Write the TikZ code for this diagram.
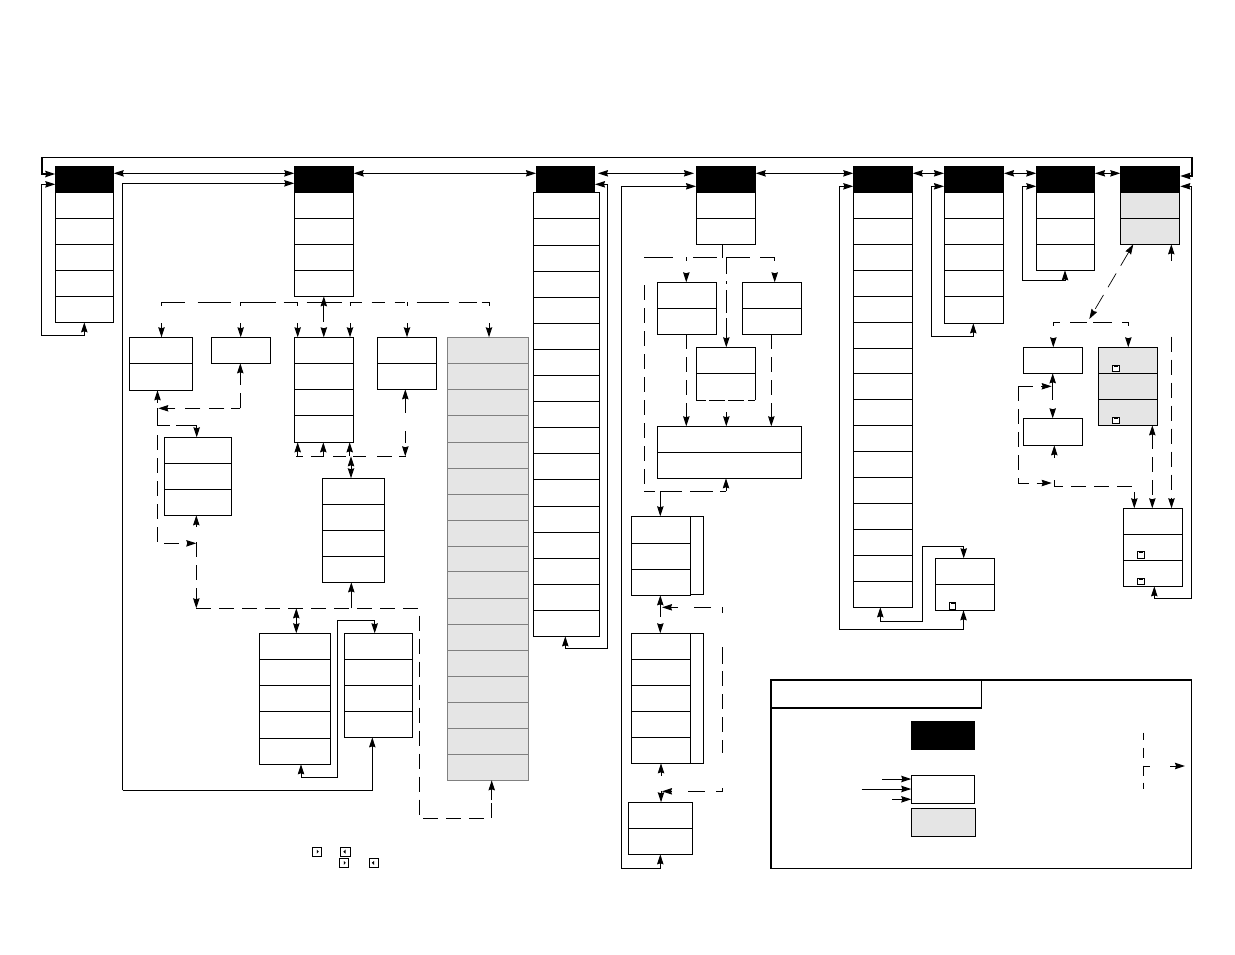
\documentclass[tikz,border=0pt]{standalone}
\usetikzlibrary{arrows.meta}
\definecolor{panelgray}{HTML}{E5E5E5}
\definecolor{edgegray}{HTML}{808080}
\tikzset{
  x=1pt,y=-1pt,
  Tp/.tip={Stealth[length=10pt,width=6.4pt,inset=1pt]},
  cellbox/.style={draw=black,line width=1pt,inner sep=0pt,outer sep=0pt},
  hdrbox/.style={fill=black,inner sep=0pt,outer sep=0pt},
  graybox/.style={cellbox,fill=panelgray},
  kbox/.style={draw=edgegray,fill=panelgray,line width=1pt,inner sep=0pt,outer sep=0pt},
  iconbox/.style={draw=black,fill=white,line width=1pt,inner sep=0pt,outer sep=0pt},
  wire/.style={line width=1pt,draw=black},
  sa/.style={wire,-{Tp}},
  sr/.style={wire,{Tp}-},
  da/.style={wire,{Tp}-{Tp}},
  dl/.style={wire,dash pattern=on 15pt off 8pt},
  dsa/.style={dl,-{Tp}},
  dda/.style={dl,{Tp}-{Tp}},
  drop/.style={wire,-{Tp},dash pattern=on 4pt off 17pt on 100pt},
}
\newcommand{\bx}[6][cellbox]{\node[#1,minimum width={(#5-#3)*1pt},minimum height={(#6-#4)*1pt}] (#2) at ({(#3+#5)/2},{(#4+#6)/2}) {};}
\newcommand{\stk}[6][cellbox]{\foreach \yb [remember=\yb as \ya (initially #5), count=\i] in {#6} {\bx[#1]{#2\i}{#3}{\ya}{#4}{\yb}}}
\begin{document}
\begin{tikzpicture}
\useasboundingbox (0,0) rectangle (1235,954);
% headers
\bx[hdrbox]{A0}{55.3}{166}{113.7}{192.7}
\bx[hdrbox]{B0}{294.3}{166}{353.7}{192.7}
\bx[hdrbox]{C0}{536}{166}{595}{192.7}
\bx[hdrbox]{D0}{696}{166}{755.7}{192.7}
\bx[hdrbox]{E0}{853.3}{166}{912.7}{192.7}
\bx[hdrbox]{F0}{944}{166}{1004}{192.7}
\bx[hdrbox]{G0}{1036.3}{166}{1095}{192.7}
\bx[hdrbox]{H0}{1120.3}{166}{1180.3}{192.7}
% stacks
\stk{A}{55.3}{113.3}{192.7}{218.3,244.3,270.3,296.3,322.3}
\stk{B}{294.3}{353.3}{192.7}{218.5,244.3,270.3,296.3}
\stk{C}{533.3}{599.3}{192.3}{218.3,245.3,271.3,297.3,323.3,349.3,375.3,401.3,427.3,453.3,479.3,506.3,532.3,558.3,584.3,610.3,636.3}
\stk{D}{696.3}{755.3}{192.7}{218.3,244.3}
\stk{E}{853.3}{912.3}{192.7}{218.3,244.3,270.3,296.3,322.3,348.3,373.3,399.3,425.3,451.3,477.3,503.3,529.3,555.3,581.3,607.3}
\stk{F}{944.3}{1003.3}{192.7}{218.3,244.3,270.3,296.3,323.3}
\stk[graybox]{H}{1120.3}{1179.3}{192.7}{218.3,244.3}
\stk{G}{1036.3}{1094.7}{192.7}{218.3,244.3,270.3}
\stk{Ja}{129.3}{192.7}{337.3}{363.3,390.3}
\bx{Jb1}{211.3}{337.3}{270.3}{363.3}
\stk{Jc}{294.3}{353.3}{337.3}{363.3,389.3,415.3,442.3}
\stk{Jd}{377.3}{436.3}{337.3}{363.3,389.3}
\stk[kbox]{K}{447.3}{528.3}{337.3}{363.3,389.3,415.3,442.3,468.3,494.3,520.3,546.3,571.3,598.3,624.3,650.3,676.3,702.3,728.3,754.3,780.3}
\stk{Je}{164.3}{231.3}{437.3}{463.3,489.3,515.3}
\stk{Jf}{259.3}{330.7}{633.3}{659.3,685.3,711.3,738.3,764.3}
\stk{Jg}{344.3}{412.3}{633.3}{659.3,685.3,711.3,737.3}
\stk{Jh}{322.3}{384.3}{478.3}{504.3,530.3,556.3,582.3}
\stk{Da}{657.3}{716.3}{282.3}{308.3,334.3}
\stk{Db}{742.3}{801.3}{282.3}{308.3,334.3}
\bx{Dc1}{696.3}{347.3}{755.3}{373.3}
\bx[draw=none,inner sep=0pt,outer sep=0pt]{Dc2}{696.3}{373.3}{755.3}{400.3}
\stk{Dd}{657.3}{801.3}{426.3}{452.3,478.3}
\bx{Des}{690.3}{516.3}{703.3}{594.3}
\stk{De}{631.3}{690.3}{516.3}{543.3,569.3,595.3}
\bx{Dfs}{690.3}{633.3}{703.3}{763.3}
\stk{Df}{631.3}{690.3}{633.3}{659.3,685.3,711.3,737.3,763.3}
\stk{Dg}{628.3}{692.3}{802.3}{828.3,854.3}
\stk{Eb}{935.3}{994.3}{558.3}{584.3,610.3}
\bx{Ia1}{1023.3}{347.3}{1082.3}{373.3}
\bx{Ib1}{1023.3}{418.3}{1082.3}{445.3}
\stk[graybox]{Ic}{1098.3}{1157.3}{347.3}{373.3,399.3,425.3}
\stk{Id}{1123.3}{1182.3}{508.3}{534.3,560.3,586.3}
% D3 lower cell: open outline with a broken bottom edge
\draw[wire] (Dc2.south west) -- (Dc2.north west) (Dc2.north east) -- (Dc2.south east);
\draw[wire,dash pattern=on 10pt off 3pt on 16pt off 3pt on 16pt off 4pt on 10pt] (Dc2.south west) -- (Dc2.south east);
\draw[line width=1.6pt] (B1.south west) -- (B1.south east);
% icons
\bx[iconbox]{ie}{949.3}{602.3}{955.7}{609.3}
\bx[iconbox]{ic1}{1112.3}{365.7}{1119.7}{371.3}
\bx[iconbox]{ic2}{1112.3}{417.7}{1119.7}{423.3}
\bx[iconbox]{id1}{1137.3}{551.7}{1144.7}{558.3}
\bx[iconbox]{id2}{1137.3}{578.3}{1144.7}{584.3}
\bx[iconbox]{n1}{312.3}{847}{321.7}{856.3}
\bx[iconbox]{n2}{340.3}{847}{350.7}{856.3}
\bx[iconbox]{n3}{339.3}{858}{348.7}{867.7}
\bx[iconbox]{n4}{369.3}{858}{378.7}{867.7}
\foreach \n in {ie,ic1,ic2,id1,id2}{\fill ([xshift=-2pt,yshift=-.2pt]\n.north) rectangle ([xshift=2pt,yshift=-1.4pt]\n.north);}
\foreach \n in {n1,n3}{\fill ([xshift=1.8pt]\n.center) -- ([xshift=-.2pt,yshift=-2pt]\n.center) -- ([xshift=-.2pt,yshift=2pt]\n.center) -- cycle;}
\foreach \n in {n2,n4}{\fill ([xshift=-2.2pt]\n.center) -- ([xshift=0pt,yshift=-2pt]\n.center) -- ([xshift=0pt,yshift=2pt]\n.center) -- cycle;}
% legend
\bx[draw=black,line width=1.4pt,inner sep=0pt,outer sep=0pt]{Lframe}{771}{680}{1191.4}{868.3}
\bx[draw=none,inner sep=0pt,outer sep=0pt]{Ltab}{771}{680}{981.7}{708}
\draw[line width=1.5pt] (Ltab.south west) -- (Ltab.south east) -- (Ltab.north east);
\bx[hdrbox]{Lblack}{911}{721}{975}{750}
\bx{Lwhite}{911.3}{775.3}{974.7}{803.7}
\bx[graybox]{Lgray}{911.3}{808.3}{975.7}{836.3}
\coordinate (ll1) at (882,779);
\coordinate (ll2) at (861.7,789);
\coordinate (ll3) at (892,799.3);
\draw[sa] (ll1) -- (Lwhite.west |- ll1);
\draw[sa] (ll2) -- (Lwhite.west |- ll2);
\draw[sa] (ll3) -- (Lwhite.west |- ll3);
\coordinate (lk1) at (1143.3,732.7);
\coordinate (lk2) at (1143.3,789.3);
\coordinate (lk3) at (1143.3,766);
\coordinate (lk4) at (1150,766);
\coordinate (lk5) at (1170,766);
\coordinate (lk6) at (1185,766);
\draw[wire,dash pattern=on 7pt off 8pt on 10pt off 8pt on 10pt off 7pt on 7pt] (lk1) -- (lk2);
\draw[wire] (lk3) -- (lk4);
\draw[sa] (lk5) -- (lk6);
% top frame
\coordinate (tl) at (41.7,157.3);
\coordinate (tr) at (1191.8,157.3);
\draw[wire] (tl) -- (tr);
\draw[sa,line width=1.6pt] (tl) -- (41.7,174) -- (A0.west |- 0,174);
\draw[sa,line width=1.6pt] (tr) -- (1191.8,176) -- (H0.east |- 0,176);
% header row
\draw[da] (A0.east |- 0,173.3) -- (B0.west |- 0,173.3);
\draw[da] (B0.east |- 0,173.3) -- (C0.west |- 0,173.3);
\draw[da] ([xshift=3pt]C0.east |- 0,173.3) -- ([xshift=-2pt]D0.west |- 0,173.3);
\draw[da] (D0.east |- 0,173.3) -- (E0.west |- 0,173.3);
\draw[da] (E0.east |- 0,173.3) -- (F0.west |- 0,173.3);
\draw[da] (F0.east |- 0,173.3) -- (G0.west |- 0,173.3);
\draw[da] (G0.east |- 0,173.3) -- (H0.west |- 0,173.3);
% solid loops
\draw[da] (A0.west |- 0,184.3) -- (41.3,184.3) -- (41.3,335) -- (84.3,335) -- (A5.south -| 84.3,0);
\draw[sa] (122.5,790.3) -- (122.5,183.3) -- (B0.west |- 0,183.3);
\draw[sa] (122.5,790.3) -- (372.3,790.3) -- (Jg4.south -| 372.3,0);
\draw[da] (C0.east |- 0,184.3) -- (607.3,184.3) -- (607.3,648.3) -- (565.3,648.3) -- (C17.south -| 565.3,0);
\draw[da] (D0.west |- 0,186.3) -- (621.5,186.3) -- (621.5,868.3) -- (660.3,868.3) -- (Dg2.south -| 660.3,0);
\draw[da] (E0.west |- 0,186.3) -- (839.7,186.3) -- (839.7,629) -- (963.5,629) -- (Eb2.south -| 963.5,0);
\draw[da] (E16.south -| 880.3,0) -- (880.3,621) -- (922.3,621) -- (922.3,546.3) -- (963.7,546.3) -- (Eb1.north -| 963.7,0);
\draw[da] (F0.west |- 0,186.3) -- (931.3,186.3) -- (931.3,336.3) -- (973.3,336.3) -- (F5.south -| 973.3,0);
\draw[da] (G0.west |- 0,186.3) -- (1022.7,186.3) -- (1022.7,280.3) -- (1065,280.3) -- (G3.south -| 1065,0);
\draw[da] (H0.east |- 0,186.3) -- (1191.7,186.3) -- (1191.7,598.3) -- (1154.3,598.3) -- (Id3.south -| 1154.3,0);
\draw[da] (Jf5.south -| 301,0) -- (301,777.3) -- (337.3,777.3) -- (337.3,620.3) -- (374.7,620.3) -- (Jg1.north -| 374.7,0);
% bus under B
\coordinate (busb) at (161.5,302.3);
\coordinate (buse) at (489,302.3);
\draw[wire,dash pattern=on 23pt off 13pt on 33pt off 10pt on 35pt off 8pt on 13pt off 10pt on 35pt off 8pt on 12pt off 10pt on 13pt off 10pt on 10pt off 12pt on 32pt off 10pt on 18pt off 5pt on 10pt] (busb) -- (buse);
\draw[drop] (busb) -- (Ja1.north -| busb);
\draw[drop] (busb -| 240.7,0) -- (Jb1.north -| 240.7,0);
\draw[drop] (busb -| 297.7,0) -- (Jc1.north -| 297.7,0);
\draw[drop] (busb -| 350,0) -- (Jc1.north -| 350,0);
\draw[drop] (busb -| 407,0) -- (Jd1.north -| 407,0);
\draw[drop] (buse) -- (K1.north -| buse);
\draw[wire,{Tp}-{Tp},dash pattern=on 17pt off 10pt on 100pt] (B4.south) -- (Jc1.north);
% J1, J2, J5 dashes
\coordinate (jc) at (240.3,408.3);
\coordinate (jt) at (158.3,408.3);
\draw[wire,{Tp}-,dash pattern=on 13pt off 8pt on 100pt] (Jb1.south -| jc) -- (jc);
\draw[wire,-{Tp},dash pattern=on 9pt off 7pt on 15pt off 9pt on 15pt off 10pt on 100pt] (jc) -- (jt);
\draw[sr] (Ja2.south -| 157.5,0) -- (157.5,403);
\draw[wire] (157.5,408.3) -- (157.5,425) -- (170,425);
\draw[wire] (176,425) -- (196.7,425);
\draw[sa] (196.7,425) -- (Je1.north -| 196.7,0);
\draw[dsa] (157.3,435) -- (157.3,543.3) -- (196.3,543.3);
\coordinate (rowj) at (196.3,608.3);
\draw[dsa] (196.3,542.3) -- (rowj);
\draw[sr] (Je3.south -| 196.3,0) -- (196.3,527.3);
\draw[dl] (rowj) -- (419,608.3) -- (419,818.3) -- (491.7,818.3) -- (491.7,800);
\draw[sa] (491.7,800) -- (K17.south -| 491.7,0);
\draw[da] (rowj -| 296.3,0) -- (Jf1.north -| 296.3,0);
\draw[wire,-{Tp}] (rowj -| 351.3,0) -- (Jh4.south -| 351.3,0);
\draw[da] (351,456.3) -- (Jh1.north -| 351,0);
% row beneath J3
\coordinate (rowa) at (296,456.3);
\coordinate (rowb) at (406.7,456.3);
\draw[wire,dash pattern=on 7pt off 8pt on 13pt off 9pt on 13pt off 7pt on 13pt off 11pt on 15pt off 7pt on 7pt] (rowa) -- (rowb);
\draw[sa] (rowa -| 297.7,0) -- (Jc4.south -| 297.7,0);
\draw[sa] (rowa -| 323.3,0) -- (Jc4.south -| 323.3,0);
\draw[sa] (rowa -| 349.7,0) -- (Jc4.south -| 349.7,0);
\draw[wire,{Tp}-{Tp},dash pattern=on 15pt off 18pt on 12pt off 10pt on 100pt] (Jd2.south -| 405.3,0) -- (rowb -| 405.3,0);
% under D
\coordinate (busd) at (644.3,257.3);
\coordinate (busf) at (775,257.3);
\draw[wire] (D2.south -| 722.3,0) -- (722.3,258.3);
\draw[wire,dash pattern=on 28.7pt off 20pt on 23.7pt off 9.3pt on 24pt off 10pt on 15pt] (busd) -- (busf);
\draw[drop] (busd -| 686.3,0) -- (Da1.north -| 686.3,0);
\draw[drop] (busf -| 774.7,0) -- (Db1.north -| 774.7,0);
\draw[wire,-{Tp},dash pattern=on 17pt off 7pt on 3pt off 6pt on 23pt off 5pt on 100pt] (busd -| 726.3,0) -- (Dc1.north -| 726.3,0);
\draw[dsa] (Da2.south -| 686.3,0) -- (Dd1.north -| 686.3,0);
\draw[dsa] (Db2.south -| 771.3,0) -- (Dd1.north -| 771.3,0);
\draw[sa] (726.3,412) -- (Dd1.north -| 726.3,0);
\coordinate (loopd) at (644.3,491.3);
\draw[dl] (644.3,285) -- (loopd);
\draw[wire,dash pattern=on 11pt off 5pt on 22pt off 8pt on 23pt off 7pt on 6pt] (loopd) -- (726,491.3);
\draw[sa] (726,491.3) -- (Dd2.south -| 726,0);
\draw[sa] (loopd -| 660.3,0) -- (De1.north -| 660.3,0);
% D5 D6 D7
\draw[wire,{Tp}-{Tp},dash pattern=on 13pt off 13pt on 100pt] (De3.south -| 660.3,0) -- (Df1.north -| 660.3,0);
\coordinate (sidea) at (722.3,607.3);
\coordinate (sideb) at (722.3,791.3);
\draw[wire] (722.3,647) -- (722.3,664);
\draw[dl] (722.3,671) -- (722.3,753);
\draw[wire,-{Tp},dash pattern=on 6pt off 11pt on 17pt off 16pt on 100pt] (722.3,613) -- (sidea) -- (sidea -| 662,0);
\draw[wire,-{Tp},dash pattern=on 10pt off 11pt on 17pt off 16pt on 100pt] (722.3,788) -- (sideb) -- (sideb -| 662,0);
\draw[sr] (Df5.south -| 661,0) -- (661,776);
\draw[sa] (661,790.5) -- (Dg1.north -| 661,0);
% right cluster
\coordinate (bush) at (1053.3,322.3);
\coordinate (busi) at (1128.3,322.3);
\draw[wire,dash pattern=on 7pt off 10pt on 17pt off 6pt on 19pt off 10pt on 6pt] (bush) -- (busi);
\draw[drop] (bush) -- (Ia1.north -| bush);
\draw[drop] (busi) -- (Ic1.north -| busi);
\draw[wire,line width=.7pt,{Tp}-{Tp},dash pattern=on 16pt off 9pt] (H2.south -| 1133.3,0) -- (1089.3,319);
\draw[sr] (H2.south -| 1171.3,0) -- (1171.3,260.7);
\draw[dsa] (1171.5,336.7) -- (Id1.north -| 1171.5,0);
\draw[wire,{Tp}-{Tp},dash pattern=on 18pt off 12pt on 20pt off 12pt on 100pt] (Ia1.south -| 1052.7,0) -- (Ib1.north -| 1052.7,0);
\coordinate (ka) at (1051.7,386.3);
\coordinate (kb) at (1051.7,483);
\draw[dsa] (ka -| 1018.3,0) -- (ka);
\draw[dsa] (1018.3,386.3) -- (1018.3,483) -- (kb);
\draw[sr] (Ib1.south -| 1054.3,0) -- (1054.3,458.3);
\draw[dsa] (1054.3,480) -- (1054.3,486.3) -- (1134.3,486.3) -- (Id1.north -| 1134.3,0);
\draw[dda] (Ic3.south -| 1152.3,0) -- (Id1.north -| 1152.3,0);
\end{tikzpicture}
\end{document}
